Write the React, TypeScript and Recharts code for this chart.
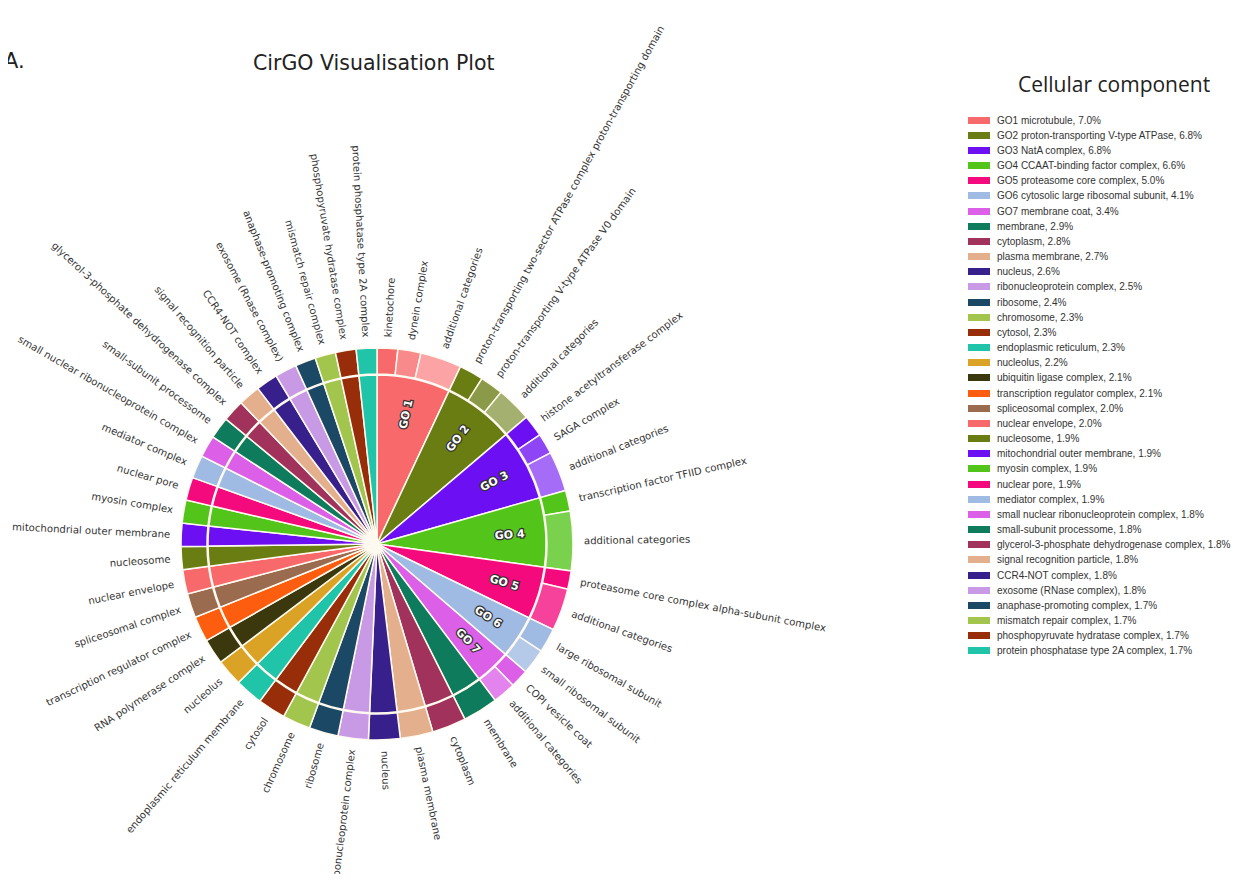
import React from 'react'
import { PieChart, Pie, Cell } from 'recharts'

// wheel labels, clockwise from 12 o'clock
const categories = [
  'GO 1', 'GO 2', 'GO 3', 'GO 4', 'GO 5', 'GO 6', 'GO 7',
  'membrane', 'cytoplasm', 'plasma membrane', 'nucleus', 'ribonucleoprotein complex',
  'ribosome', 'chromosome', 'cytosol', 'endoplasmic reticulum membrane', 'nucleolus',
  'RNA polymerase complex', 'transcription regulator complex', 'spliceosomal complex',
  'nuclear envelope', 'nucleosome', 'mitochondrial outer membrane', 'myosin complex',
  'nuclear pore', 'mediator complex', 'small nuclear ribonucleoprotein complex',
  'small-subunit processome', 'glycerol-3-phosphate dehydrogenase complex',
  'signal recognition particle', 'CCR4-NOT complex', 'exosome (Rnase complex)',
  'anaphase-promoting complex', 'mismatch repair complex',
  'phosphopyruvate hydratase complex', 'protein phosphatase type 2A complex',
]

const legendLabels = [
  'GO1 microtubule', 'GO2 proton-transporting V-type ATPase', 'GO3 NatA complex',
  'GO4 CCAAT-binding factor complex', 'GO5 proteasome core complex',
  'GO6 cytosolic large ribosomal subunit', 'GO7 membrane coat',
  'membrane', 'cytoplasm', 'plasma membrane', 'nucleus', 'ribonucleoprotein complex',
  'ribosome', 'chromosome', 'cytosol', 'endoplasmic reticulum', 'nucleolus',
  'ubiquitin ligase complex', 'transcription regulator complex', 'spliceosomal complex',
  'nuclear envelope', 'nucleosome', 'mitochondrial outer membrane', 'myosin complex',
  'nuclear pore', 'mediator complex', 'small nuclear ribonucleoprotein complex',
  'small-subunit processome', 'glycerol-3-phosphate dehydrogenase complex',
  'signal recognition particle', 'CCR4-NOT complex', 'exosome (RNase complex)',
  'anaphase-promoting complex', 'mismatch repair complex',
  'phosphopyruvate hydratase complex', 'protein phosphatase type 2A complex',
]

const shares = [
  7.0, 6.8, 6.8, 6.6, 5.0, 4.1, 3.4,
  2.9, 2.8, 2.7, 2.6, 2.5, 2.4, 2.3, 2.3, 2.3, 2.2, 2.1, 2.1, 2.0, 2.0,
  1.9, 1.9, 1.9, 1.9, 1.9, 1.8, 1.8, 1.8, 1.8, 1.8, 1.8, 1.7, 1.7, 1.7, 1.7,
]

const goSubLabels = [
  ['kinetochore', 'dynein complex', 'additional categories'],
  ['proton-transporting two-sector ATPase complex proton-transporting domain', 'proton-transporting V-type ATPase V0 domain', 'additional categories'],
  ['histone acetyltransferase complex', 'SAGA complex', 'additional categories'],
  ['transcription factor TFIID complex', 'additional categories'],
  ['proteasome core complex alpha-subunit complex', 'additional categories'],
  ['large ribosomal subunit', 'small ribosomal subunit'],
  ['COPI vesicle coat', 'additional categories'],
]

const goSubShares = [
  [1.7, 1.9, 3.4],
  [2.0, 1.9, 2.9],
  [1.8, 1.7, 3.3],
  [1.7, 4.9],
  [1.5, 3.5],
  [2.0, 2.1],
  [1.5, 1.9],
]

const palette = [
  '#f8696b', '#6a7d13', '#6c0ff2', '#52c41a', '#f50a7e', '#9fbbe3', '#dc5fe8',
  '#0e7b5c', '#a1325c', '#e3af8c', '#38208c', '#c89ae6', '#1b4865', '#a2c54e',
  '#982d0a', '#20c4a8', '#daa325', '#3b380d', '#fc5d0f', '#9b6b4f',
]

const subOpacity = [1, 0.88, 0.78]

const innerData = categories.map((name, i) => ({
  name,
  value: shares[i],
  fill: palette[i % palette.length],
  go: i < 7,
}))

const outerData: { label: string; value: number; fill: string; opacity: number }[] = []
categories.forEach((name, i) => {
  const fill = palette[i % palette.length]
  if (i < 7) {
    goSubLabels[i].forEach((label, j) => {
      outerData.push({ label, value: goSubShares[i][j], fill, opacity: subOpacity[j] })
    })
  } else {
    outerData.push({ label: name, value: shares[i], fill, opacity: 1 })
  }
})

const LINE = '#fffaf0'

const norm = (a: number) => ((a % 360) + 360) % 360

const renderOuterLabel = (props: any) => {
  const { cx, cy, midAngle, outerRadius, index } = props
  const a = norm(midAngle)
  const rad = (a * Math.PI) / 180
  const r = outerRadius + 11
  const x = cx + r * Math.cos(rad)
  const y = cy - r * Math.sin(rad)
  const right = Math.cos(rad) >= -1e-6
  const rot = right ? -a : 180 - a
  return (
    <text
      key={`ol-${index}`}
      x={x}
      y={y}
      transform={`rotate(${rot} ${x} ${y})`}
      textAnchor={right ? 'start' : 'end'}
      dominantBaseline="central"
      fontSize={10.1}
      fontFamily="DejaVu Sans"
      fill="#333"
    >
      {outerData[index].label}
    </text>
  )
}

const renderInnerLabel = (props: any) => {
  const { cx, cy, midAngle, index } = props
  if (!innerData[index].go) return <g key={`il-${index}`} />
  const a = norm(midAngle)
  const rad = (a * Math.PI) / 180
  const r = 133
  const x = cx + r * Math.cos(rad)
  const y = cy - r * Math.sin(rad)
  const rot = Math.cos(rad) >= 0 ? -a : 180 - a
  return (
    <text
      key={`il-${index}`}
      x={x}
      y={y}
      transform={`rotate(${rot} ${x} ${y})`}
      textAnchor="middle"
      dominantBaseline="central"
      fontSize={11}
      fontWeight="bold"
      fontFamily="DejaVu Sans"
      fill="#fff"
      stroke="#333"
      strokeWidth={2.5}
      paintOrder="stroke"
    >
      {innerData[index].name}
    </text>
  )
}

const App = () => {
  return (
    <div style={{ position: 'relative', width: 1224, height: 866, background: '#fff' }}>
      <div style={{ position: 'absolute', left: 0, top: 0 }}>
        <PieChart width={960} height={874}>
          <Pie
            data={innerData}
            dataKey="value"
            nameKey="name"
            cx={364}
            cy={531}
            innerRadius={0}
            outerRadius={169}
            startAngle={90}
            endAngle={-270}
            stroke={LINE}
            strokeWidth={1.5}
            label={renderInnerLabel}
            labelLine={false}
            isAnimationActive={false}
          >
            {innerData.map((d, i) => (
              <Cell key={`in-${i}`} fill={d.fill} />
            ))}
          </Pie>
          <Pie
            data={outerData}
            dataKey="value"
            nameKey="label"
            cx={364}
            cy={531}
            innerRadius={170}
            outerRadius={196}
            startAngle={90}
            endAngle={-270}
            stroke={LINE}
            strokeWidth={1.5}
            label={renderOuterLabel}
            labelLine={false}
            isAnimationActive={false}
          >
            {outerData.map((d, i) => (
              <Cell key={`out-${i}`} fill={d.fill} fillOpacity={d.opacity} />
            ))}
          </Pie>
        </PieChart>
      </div>

      <div style={{ position: 'absolute', zIndex: 2, left: -4, top: 41, fontFamily: 'DejaVu Sans', fontSize: 21, color: '#222' }}>
        A.
      </div>
      <div style={{ position: 'absolute', zIndex: 2, left: 245, top: 43, fontFamily: 'DejaVu Sans', fontSize: 20.5, color: '#222' }}>
        CirGO Visualisation Plot
      </div>

      <div style={{ position: 'absolute', left: 1010, top: 62, fontFamily: 'Open Sans', fontSize: 21, color: '#222' }}>
        Cellular component
      </div>
      <div style={{ position: 'absolute', left: 960, top: 105 }}>
        {legendLabels.map((lab, i) => (
          <div
            key={lab}
            style={{
              position: 'absolute',
              top: i * 15.17,
              left: 0,
              height: 14,
              display: 'flex',
              alignItems: 'center',
              whiteSpace: 'nowrap',
              fontFamily: 'Liberation Sans',
              fontSize: 10,
              color: '#333',
            }}
          >
            <span style={{ display: 'inline-block', width: 22, height: 7, background: palette[i % palette.length], marginRight: 7 }} />
            {`${lab}, ${shares[i].toFixed(1)}%`}
          </div>
        ))}
      </div>
    </div>
  )
}

export default App
